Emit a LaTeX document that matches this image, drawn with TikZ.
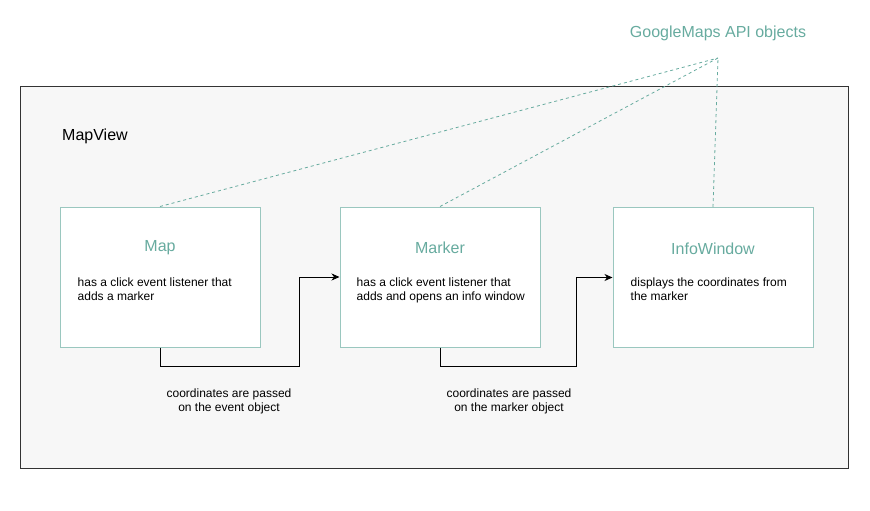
\documentclass[tikz,border=0pt]{standalone}
\usepackage{xcolor}
\usepackage{fontspec}
\setmainfont{Liberation Sans}
\usepackage{tikz}
\usetikzlibrary{shapes, arrows.meta, positioning}
\definecolor{gmteal}{HTML}{67AB9F}
\definecolor{gmborder}{HTML}{9AC7BF}
\definecolor{viewfill}{HTML}{F7F7F7}
\definecolor{viewline}{HTML}{333333}
\tikzstyle{viewbox} = [rectangle, minimum width=828pt, minimum height=382pt, draw=viewline, fill=viewfill, line width=0.9pt]
\tikzstyle{apibox} = [rectangle, minimum width=200pt, minimum height=140pt, draw=gmborder, fill=white, line width=1pt]
\tikzstyle{boxtitle} = [text=gmteal, font=\fontsize{16}{18}\selectfont, inner sep=0pt]
\tikzstyle{boxtext} = [align=left, font=\fontsize{12}{14}\selectfont, inner sep=0pt, anchor=north west]
\tikzstyle{passnote} = [align=center, font=\fontsize{12}{14}\selectfont, inner sep=0pt]
\tikzstyle{apiline} = [draw=gmteal, dash pattern=on 3pt off 3pt, line width=0.8pt]
\tikzstyle{arrow} = [line width=0.9pt, -{Stealth[length=8pt, width=7pt, inset=2.5pt]}]

\begin{document}
\begin{tikzpicture}[x=1pt, y=-1pt]
\useasboundingbox (0,0) rectangle (870,511);

%==============================================
%Contenedor MapView
%==============================================
\node (mapview) [viewbox] at (434,277) {};
\node (viewlabel) [anchor=west, inner sep=0pt, font=\fontsize{16}{18}\selectfont] at (62,136) {MapView};

%Nodo Map==============================================
\node (map) [apibox] at (160,277) {};
\node (maptitle) [boxtitle] at ([yshift=-41pt]map.north) {Map};
\node (maptext) [boxtext] at ([xshift=18pt, yshift=-71pt]map.north west) {has a click event listener that\\adds a marker};

%Nodo Marker==============================================
\node (marker) [apibox] at (440,277) {};
\node (markertitle) [boxtitle] at ([yshift=-41pt]marker.north) {Marker};
\node (markertext) [boxtext] at ([xshift=17pt, yshift=-71pt]marker.north west) {has a click event listener that\\adds and opens an info window};

%Nodo InfoWindow==============================================
\node (info) [apibox] at (713,277.5) {};
\node (infotitle) [boxtitle] at ([yshift=-42pt]info.north) {InfoWindow};
\node (infotext) [boxtext] at ([xshift=18pt, yshift=-71pt]info.north west) {displays the coordinates from\\the marker};

%Objetos de la API==============================================
\node (api) [boxtitle] at (718,33) {GoogleMaps API objects};
\coordinate (apihub) at (718,58);

%Notas==============================================
\node (eventnote) [passnote] at (229,401) {coordinates are passed\\on the event object};
\node (markernote) [passnote] at (509,401) {coordinates are passed\\on the marker object};

%==============================================
\draw [apiline] (map.north) -- (apihub);
\draw [apiline] (marker.north) -- (apihub);
\draw [apiline] (info.north) -- (apihub);
\draw [arrow] (map.south) -- ++(0,19) -| ([xshift=-40pt]marker.west) -- (marker.west);
\draw [arrow] (marker.south) -- ++(0,19) -| ([xshift=-36pt]info.west) -- (info.west);
\end{tikzpicture}
\end{document}
